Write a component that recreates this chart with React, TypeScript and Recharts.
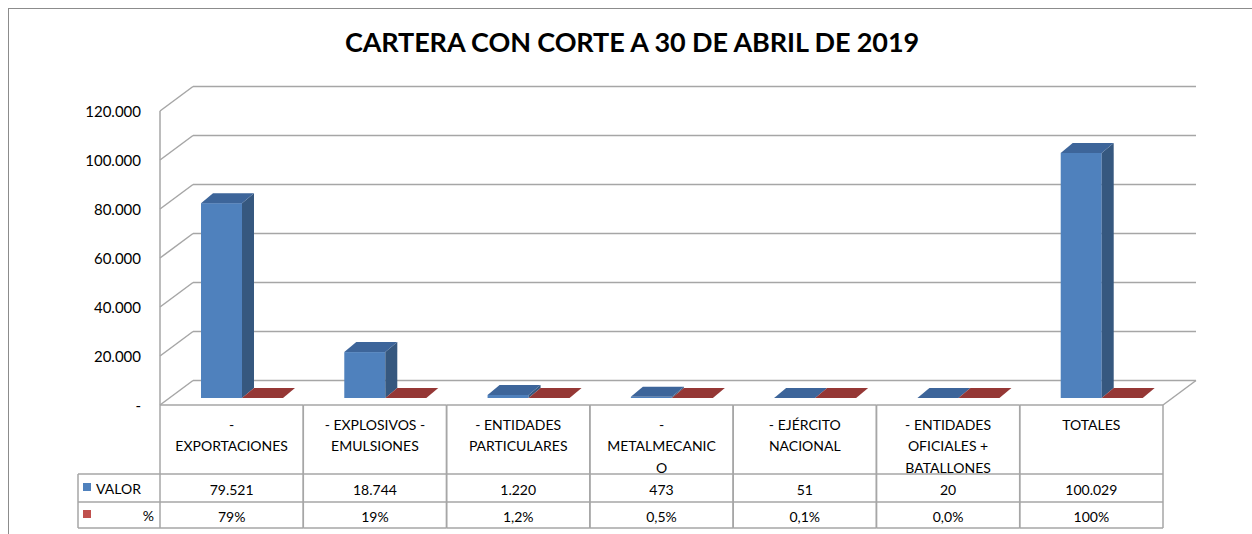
import React from 'react'
import { BarChart, Bar, XAxis, YAxis, CartesianGrid } from 'recharts'

const categories = [
  ['-', 'EXPORTACIONES'],
  ['- EXPLOSIVOS -', 'EMULSIONES'],
  ['- ENTIDADES', 'PARTICULARES'],
  ['-', 'METALMECANIC', 'O'],
  ['- EJÉRCITO', 'NACIONAL'],
  ['- ENTIDADES', 'OFICIALES +', 'BATALLONES'],
  ['TOTALES'],
]
const valor = [79521, 18744, 1220, 473, 51, 20, 100029]
const pct = [0.79, 0.19, 0.012, 0.005, 0.001, 0.0, 1.0]
const pctLabels = ['79%', '19%', '1,2%', '0,5%', '0,1%', '0,0%', '100%']
const yTicks = [0, 20000, 40000, 60000, 80000, 100000, 120000]

const FONT = 'Lato, "Liberation Sans", sans-serif'
const GRID = '#a6a6a6'
// 3d depth of the walls and of the bars
const WALL_DX = 33
const WALL_DY = -24.5
const BAR_SHIFT_X = 10
const BAR_SHIFT_Y = -7
const BAR_DX = 12
const BAR_DY = -10

function fmtNum(v: number) {
  if (v === 0) return '-'
  return String(v).replace(/\B(?=(\d{3})+(?!\d))/g, '.')
}

const data = categories.map((c, i) => ({
  name: c.join(' '),
  valor: valor[i],
  pct: pct[i],
}))

function makeBar3D(front: string, side: string, top: string) {
  return (props: any) => {
    const { x, width } = props
    const y = Number(props.y) || 0
    const h = Math.max(0, Number(props.height) || 0)
    const fx = x + BAR_SHIFT_X
    const fy = y + BAR_SHIFT_Y
    const w = width
    return (
      <g>
        <rect x={fx} y={fy} width={w} height={h} fill={front} />
        <polygon
          points={`${fx + w},${fy} ${fx + w + BAR_DX},${fy + BAR_DY} ${fx + w + BAR_DX},${fy + h + BAR_DY} ${fx + w},${fy + h}`}
          fill={side}
        />
        <polygon
          points={`${fx},${fy} ${fx + BAR_DX},${fy + BAR_DY} ${fx + w + BAR_DX},${fy + BAR_DY} ${fx + w},${fy}`}
          fill={top}
        />
      </g>
    )
  }
}

const blueBar = makeBar3D('#4f81bd', '#36587f', '#3d659a')
const redBar = makeBar3D('#c0504d', '#8a3533', '#953735')

function GridLine(props: any) {
  const { x1, y1, x2, index } = props
  const isFloor = index === 0 || Math.abs(y1 - 405) < 1
  return (
    <g key={`g-${index}`}>
      <line x1={x1} y1={y1} x2={x1 + WALL_DX} y2={y1 + WALL_DY} stroke={GRID} strokeWidth={1.5} />
      <line x1={x1 + WALL_DX} y1={y1 + WALL_DY} x2={x2 + WALL_DX} y2={y1 + WALL_DY} stroke={GRID} strokeWidth={1.5} />
      {isFloor && (
        <line x1={x2} y1={y1} x2={x2 + WALL_DX} y2={y1 + WALL_DY} stroke={GRID} strokeWidth={1.5} />
      )}
    </g>
  )
}

function YTick(props: any) {
  const { x, y, payload } = props
  return (
    <text x={x} y={y} textAnchor="end" dominantBaseline="central" fontSize={15} fontFamily={FONT} fill="#000">
      {fmtNum(payload.value)}
    </text>
  )
}

function TableTick(props: any) {
  const { x, y, index, payload } = props
  const cw = props.width ? props.width / categories.length : payload.offset * 2
  const left = x - cw / 2
  const right = x + cw / 2
  const top = y
  const r1 = top + 69
  const r2 = top + 97
  const r3 = top + 123
  const lines = categories[index]
  const st = { stroke: GRID, strokeWidth: 1.5 }
  return (
    <g>
      <line x1={left} y1={top} x2={right} y2={top} {...st} />
      <line x1={left} y1={top} x2={left} y2={r3} {...st} />
      <line x1={right} y1={top} x2={right} y2={r3} {...st} />
      <line x1={left} y1={r1} x2={right} y2={r1} {...st} />
      <line x1={left} y1={r2} x2={right} y2={r2} {...st} />
      <line x1={left} y1={r3} x2={right} y2={r3} {...st} />
      {lines.map((l, i) => (
        <text key={i} x={x} y={top + 19 + i * 21.5} textAnchor="middle" dominantBaseline="central" fontSize={14} fontFamily={FONT} fill="#000">
          {l}
        </text>
      ))}
      <text x={x} y={top + 84} textAnchor="middle" dominantBaseline="central" fontSize={14} fontFamily={FONT} fill="#000">
        {fmtNum(valor[index])}
      </text>
      <text x={x} y={top + 111} textAnchor="middle" dominantBaseline="central" fontSize={14} fontFamily={FONT} fill="#000">
        {pctLabels[index]}
      </text>
      {index === 0 && (
        <g>
          <line x1={left - 82} y1={r1} x2={left} y2={r1} {...st} />
          <line x1={left - 82} y1={r2} x2={left} y2={r2} {...st} />
          <line x1={left - 82} y1={r3} x2={left} y2={r3} {...st} />
          <line x1={left - 82} y1={r1} x2={left - 82} y2={r3} {...st} />
          <rect x={left - 77} y={r1 + 9} width={8} height={8} fill="#4f81bd" />
          <text x={left - 64} y={r1 + 14} dominantBaseline="central" fontSize={14} fontFamily={FONT} fill="#000">
            VALOR
          </text>
          <rect x={left - 77} y={r2 + 8} width={8} height={8} fill="#c0504d" />
          <text x={left - 6} y={r2 + 13} textAnchor="end" dominantBaseline="central" fontSize={14} fontFamily={FONT} fill="#000">
            %
          </text>
        </g>
      )}
    </g>
  )
}

export default function App() {
  return (
    <div style={{ position: 'absolute', left: 0, top: 0, width: 1252, height: 534, overflow: 'hidden', background: '#fff' }}>
      <div
        style={{
          position: 'absolute', left: 8, top: 8, width: 1260, height: 560,
          border: '1.5px solid #8c8c8c', boxSizing: 'border-box',
        }}
      />
      <div
        style={{
          position: 'absolute', left: 0, width: 1264, top: 23, textAlign: 'center',
          fontFamily: FONT, fontWeight: 'bold', fontSize: 27, color: '#000', lineHeight: '38px',
          letterSpacing: -0.1,
        }}
      >
        CARTERA CON CORTE A 30 DE ABRIL DE 2019
      </div>
      <div style={{ position: 'absolute', left: 0, top: 0 }}>
        <BarChart
          width={1252}
          height={534}
          data={data}
          margin={{ top: 111, right: 89, bottom: 0, left: 80 }}
          barSize={41}
          barGap={0}
        >
          <CartesianGrid vertical={false} horizontal={GridLine} />
          <XAxis
            dataKey="name"
            interval={0}
            axisLine={false}
            tickLine={false}
            tickSize={0}
            tickMargin={0}
            height={129}
            tick={<TableTick />}
          />
          <YAxis
            domain={[0, 120000]}
            ticks={yTicks}
            width={80}
            axisLine={{ stroke: GRID, strokeWidth: 1.5 }}
            tickLine={false}
            tickSize={0}
            tickMargin={19}
            tick={<YTick />}
          />
          <Bar dataKey="valor" isAnimationActive={false} shape={blueBar} />
          <Bar dataKey="pct" isAnimationActive={false} shape={redBar} />
        </BarChart>
      </div>
    </div>
  )
}
